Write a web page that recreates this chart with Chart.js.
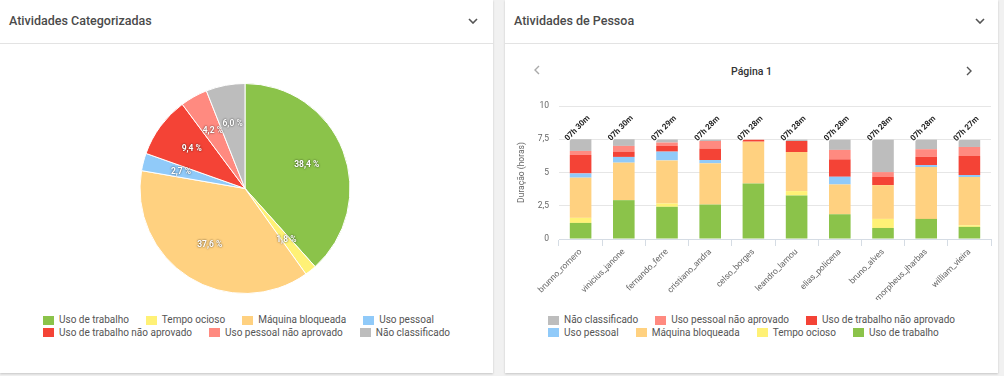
<!DOCTYPE html>
<html lang="pt-BR">
<head>
<meta charset="utf-8">
<title>Atividades</title>
<script src="https://cdn.jsdelivr.net/npm/chart.js@4.4.1/dist/chart.umd.min.js"></script>
<style>
  html, body { margin: 0; padding: 0; }
  body { width: 1004px; height: 376px; background: #f1f1f1; font-family: Roboto, 'Noto Sans', sans-serif; position: relative; overflow: hidden; }
  .card { position: absolute; top: 0; height: 373px; background: #fff; box-shadow: 0 1px 2px rgba(0,0,0,.18); }
  .card-header { height: 43px; border-bottom: 1px solid #e3e3e3; position: relative; }
  .card-title { position: absolute; left: 9px; top: 13px; font-size: 12.5px; font-weight: 500; color: #4a4a4a; }
  .chevron { position: absolute; top: 18px; }
  .legend { position: absolute; display: flex; flex-wrap: wrap; font-size: 10px; color: #555; line-height: 12.5px; }
  .legend-item { display: flex; align-items: center; margin-right: 17px; white-space: nowrap; }
  .legend-box { width: 11px; height: 9px; margin-right: 5px; }
  .pager { position: absolute; top: 65px; left: 0; width: 100%; text-align: center; font-size: 10.5px; font-weight: 500; color: #333; }
</style>
</head>
<body>

<div class="card" style="left:0; width:493px;">
  <div class="card-header">
    <div class="card-title">Atividades Categorizadas</div>
    <svg class="chevron" style="left:468px" width="10" height="6"><path d="M1 1 L5 5 L9 1" stroke="#555" stroke-width="1.6" fill="none"/></svg>
  </div>
  <div style="position:absolute; left:0; top:83px; width:490px; height:211px;"><canvas id="pieChart"></canvas></div>
  <div class="legend" id="pieLegend" style="left:43px; top:314px; width:440px;"></div>
</div>

<div class="card" style="left:505px; width:493px;">
  <div class="card-header">
    <div class="card-title">Atividades de Pessoa</div>
    <svg class="chevron" style="left:470px" width="10" height="6"><path d="M1 1 L5 5 L9 1" stroke="#555" stroke-width="1.6" fill="none"/></svg>
  </div>
  <svg style="position:absolute; left:29px; top:65px" width="6" height="10"><path d="M5 1 L1 5 L5 9" stroke="#aaa" stroke-width="1.4" fill="none"/></svg>
  <div class="pager">Página 1</div>
  <svg style="position:absolute; left:461px; top:66px" width="6" height="10"><path d="M1 1 L5 5 L1 9" stroke="#555" stroke-width="1.4" fill="none"/></svg>
  <div style="position:absolute; left:0; top:85px; width:493px; height:215px;"><canvas id="barChart"></canvas></div>
  <div class="legend" id="barLegend" style="left:43px; top:314px; width:440px;"></div>
</div>

<script>
// categorias (ordem de empilhamento, de baixo para cima)
const categorias = ['Uso de trabalho', 'Tempo ocioso', 'Máquina bloqueada', 'Uso pessoal',
  'Uso de trabalho não aprovado', 'Uso pessoal não aprovado', 'Não classificado'];
const cores = ['#8BC34A', '#FFF176', '#FFD180', '#90CAF9', '#F44336', '#FF8A80', '#BDBDBD'];

// pizza: percentual por categoria
const percentuais = [38.4, 1.8, 37.6, 2.7, 9.4, 4.2, 6.0];

// barras: horas por pessoa
const pessoas = ['brunno_romero', 'vinicius_janone', 'fernando_ferre', 'cristiano_andra', 'celso_borges',
  'leandro_lamou', 'elias_policena', 'bruno_alves', 'morpheus_jharbas', 'william_vieira'];
const usoTrabalho         = [1.21, 2.92, 2.42, 2.59, 4.18, 3.27, 1.86, 0.83, 1.51, 0.91];
const tempoOcioso         = [0.38, 0,    0.25, 0,    0,    0.33, 0,    0.68, 0,    0.12];
const maquinaBloqueada    = [3.02, 2.82, 3.24, 3.10, 3.14, 2.94, 2.24, 2.54, 3.90, 3.63];
const usoPessoal          = [0.32, 0.43, 0.66, 0.25, 0,    0,    0.58, 0,    0.15, 0.15];
const trabalhoNaoAprovado = [1.39, 0.40, 0.43, 0.86, 0.13, 0.83, 1.31, 0.61, 0.61, 1.43];
const pessoalNaoAprovado  = [0.30, 0.43, 0.25, 0.57, 0.02, 0,    0.71, 0.37, 0.58, 0.68];
const naoClassificado     = [0.88, 0.50, 0.23, 0.10, 0,    0.10, 0.77, 2.44, 0.72, 0.53];
const series = [usoTrabalho, tempoOcioso, maquinaBloqueada, usoPessoal, trabalhoNaoAprovado, pessoalNaoAprovado, naoClassificado];

const yMin = 0, yMax = 10, yStep = 2.5;

const fonte = 'Roboto';
const virgula = v => String(v).replace('.', ',');

function montarLegenda(chart, id, inverter) {
  let itens = chart.options.plugins.legend.labels.generateLabels(chart);
  if (inverter) itens = itens.reverse();
  const el = document.getElementById(id);
  itens.forEach(it => {
    const item = document.createElement('div');
    item.className = 'legend-item';
    const box = document.createElement('span');
    box.className = 'legend-box';
    box.style.background = it.fillStyle;
    item.appendChild(box);
    item.appendChild(document.createTextNode(it.text));
    el.appendChild(item);
  });
}

// rótulos percentuais dentro da pizza
const rotulosPizza = {
  id: 'rotulosPizza',
  afterDatasetsDraw(chart) {
    const ctx = chart.ctx;
    const meta = chart.getDatasetMeta(0);
    ctx.save();
    ctx.font = 'bold 8.5px ' + fonte;
    ctx.textAlign = 'center';
    ctx.textBaseline = 'middle';
    ctx.fillStyle = '#fff';
    ctx.shadowColor = 'rgba(0,0,0,0.8)';
    ctx.shadowBlur = 2;
    meta.data.forEach((arc, i) => {
      const p = arc.getProps(['x', 'y', 'startAngle', 'endAngle', 'outerRadius'], true);
      const meio = (p.startAngle + p.endAngle) / 2;
      const r = p.outerRadius * 0.63;
      const texto = virgula(percentuais[i].toFixed(1)) + ' %';
      ctx.fillText(texto, p.x + Math.cos(meio) * r, p.y + Math.sin(meio) * r);
    });
    ctx.restore();
  }
};

// total de horas acima de cada barra
const rotulosTotais = {
  id: 'rotulosTotais',
  afterDatasetsDraw(chart) {
    const ctx = chart.ctx;
    const xs = chart.scales.x, ys = chart.scales.y;
    ctx.save();
    ctx.font = 'bold 8px ' + fonte;
    ctx.textAlign = 'center';
    ctx.textBaseline = 'middle';
    pessoas.forEach((p, i) => {
      const total = chart.data.datasets.reduce((s, d) => s + d.data[i], 0);
      const min = Math.round(total * 60);
      const texto = String(Math.floor(min / 60)).padStart(2, '0') + 'h ' + String(min % 60).padStart(2, '0') + 'm';
      ctx.save();
      ctx.translate(xs.getPixelForValue(i) - 3, ys.getPixelForValue(total) - 11);
      ctx.rotate(-Math.PI / 4);
      ctx.strokeStyle = '#fff';
      ctx.lineWidth = 2;
      ctx.strokeText(texto, 0, 0);
      ctx.fillStyle = '#222';
      ctx.fillText(texto, 0, 0);
      ctx.restore();
    });
    ctx.restore();
  }
};

const pizza = new Chart(document.getElementById('pieChart'), {
  type: 'pie',
  data: {
    labels: categorias,
    datasets: [{
      data: percentuais,
      backgroundColor: cores,
      borderColor: '#fff',
      borderWidth: 1,
      hoverOffset: 0
    }]
  },
  options: {
    responsive: true,
    maintainAspectRatio: false,
    animation: false,
    plugins: { legend: { display: false }, tooltip: { enabled: false } }
  },
  plugins: [rotulosPizza]
});
montarLegenda(pizza, 'pieLegend', false);

const barras = new Chart(document.getElementById('barChart'), {
  type: 'bar',
  data: {
    labels: pessoas,
    datasets: categorias.map((c, k) => ({
      label: c,
      data: series[k],
      backgroundColor: cores[k],
      barPercentage: 0.5,
      categoryPercentage: 1
    }))
  },
  options: {
    responsive: true,
    maintainAspectRatio: false,
    animation: false,
    layout: { padding: { left: 12, top: 21, right: 7, bottom: 0 } },
    plugins: { legend: { display: false }, tooltip: { enabled: false } },
    scales: {
      x: {
        stacked: true,
        grid: { drawOnChartArea: false, color: '#d5dce4', tickLength: 7 },
        border: { color: '#d5dce4' },
        ticks: { font: { size: 8.5, family: fonte }, color: '#666', minRotation: 45, maxRotation: 45, autoSkip: false, padding: 1 },
        afterFit(s) { s.height = 61; }
      },
      y: {
        stacked: true,
        min: yMin,
        max: yMax,
        ticks: { stepSize: yStep, font: { size: 8.5, family: fonte }, color: '#666', padding: 10, callback: v => virgula(v) },
        grid: { color: '#e6e6e6', drawTicks: false },
        border: { display: false },
        title: { display: true, text: 'Duração (horas)', font: { size: 8.5, family: fonte }, color: '#666', padding: 0 },
        afterFit(s) { s.width = 42; }
      }
    }
  },
  plugins: [rotulosTotais]
});
montarLegenda(barras, 'barLegend', true);
</script>
</body>
</html>
